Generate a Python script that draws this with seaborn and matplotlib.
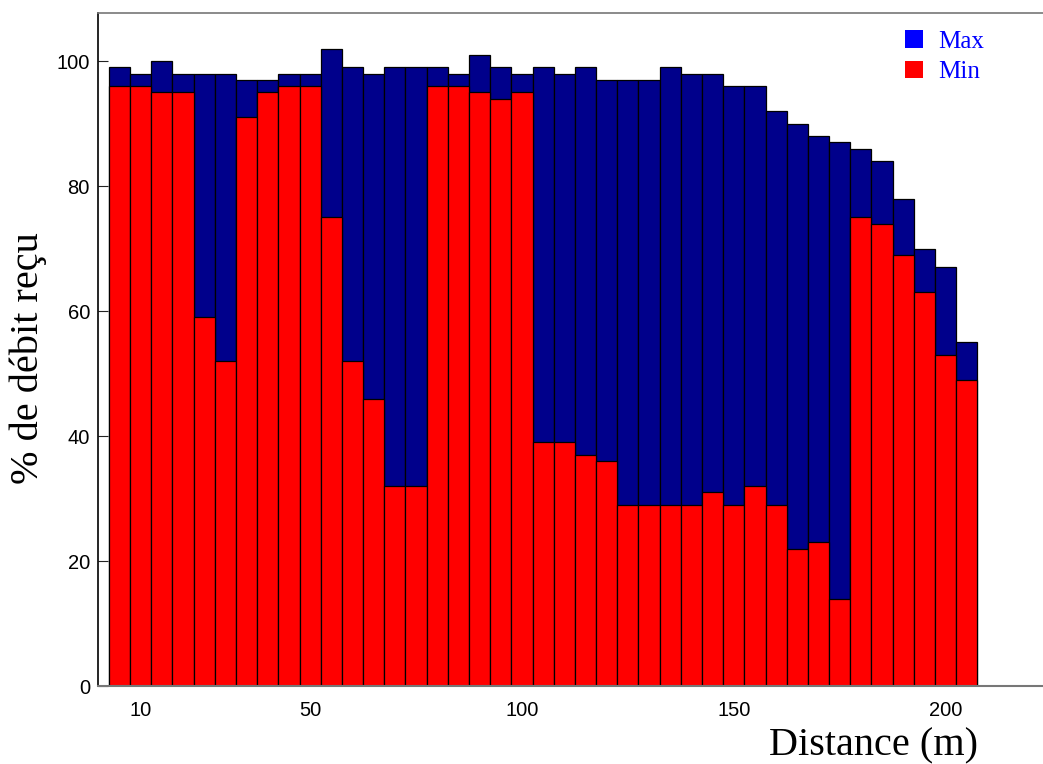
import matplotlib
matplotlib.use("Agg")
import matplotlib.pyplot as plt
import seaborn as sns
import pandas as pd
from matplotlib.patches import Patch

distance = [5, 10, 15, 20, 25, 30, 35, 40, 45, 50,
            55, 60, 65, 70, 75, 80, 85, 90, 95, 100,
            105, 110, 115, 120, 125, 130, 135, 140, 145, 150,
            155, 160, 165, 170, 175, 180, 185, 190, 195, 200, 205]
max_pct = [99, 98, 100, 98, 98, 98, 97, 97, 98, 98,
           102, 99, 98, 99, 99, 99, 98, 101, 99, 98,
           99, 98, 99, 97, 97, 97, 99, 98, 98, 96,
           96, 92, 90, 88, 87, 86, 84, 78, 70, 67, 55]
min_pct = [96, 96, 95, 95, 59, 52, 91, 95, 96, 96,
           75, 52, 46, 32, 32, 96, 96, 95, 94, 95,
           39, 39, 37, 36, 29, 29, 29, 29, 31, 29,
           32, 29, 22, 23, 14, 75, 74, 69, 63, 53, 49]
xticks = [10, 50, 100, 150, 200]
yticks = [0, 20, 40, 60, 80, 100]
series_labels = ["Max", "Min"]

df = pd.DataFrame({"distance": distance, "max": max_pct, "min": min_pct})

sns.set_theme(style="white")
plt.rcParams["font.family"] = ["Liberation Sans", "DejaVu Sans"]

W, H = 1043, 764
fig = plt.figure(figsize=(W / 100, H / 100), dpi=100)
ax = fig.add_axes([98.3 / W, 1 - 686 / H, 1 - 98.3 / W, (686 - 13) / H])

navy = "#00008B"
red = "#FF0000"
sns.barplot(data=df, x="distance", y="max", native_scale=True, width=1,
            color=navy, saturation=1, edgecolor="black", linewidth=0.9,
            errorbar=None, ax=ax)
sns.barplot(data=df, x="distance", y="min", native_scale=True, width=1,
            color=red, saturation=1, edgecolor="black", linewidth=0.9,
            errorbar=None, ax=ax)

ax.set_xlim(0, 223)
ax.set_ylim(0, 107.7)
ax.set_xticks(xticks)
ax.set_xticklabels([str(t) for t in xticks])
ax.set_yticks(yticks)
ax.set_yticklabels([str(t) for t in yticks])
ax.tick_params(axis="x", direction="in", length=7, width=0.8, color="#444444",
               pad=11, labelsize=14.5, labelcolor="black", bottom=True)
ax.tick_params(axis="y", direction="in", length=7, width=0.8, color="#222222",
               pad=6, labelsize=14.5, labelcolor="black", left=True)
ax.set_xlabel("")
ax.set_ylabel("")

ax.spines["right"].set_visible(False)
ax.spines["left"].set_color("black")
ax.spines["left"].set_linewidth(1.2)
ax.spines["top"].set_color("#777777")
ax.spines["top"].set_linewidth(1.2)
ax.spines["bottom"].set_color("#777777")
ax.spines["bottom"].set_linewidth(1.5)
ax.grid(False)

serif = ["Liberation Serif", "DejaVu Serif"]
fig.text(978 / W, (764 - 755) / H, "Distance (m)", ha="right", va="baseline",
         fontsize=29, family=serif, color="black")
fig.text(28 / W, 1 - 358 / H, "% de débit reçu", ha="center", va="center",
         rotation=90, fontsize=29, family=serif, color="black")

handles = [Patch(facecolor="#0000FF", edgecolor="none"),
           Patch(facecolor=red, edgecolor="none")]
leg = ax.legend(handles, series_labels, loc="upper left",
                bbox_to_anchor=(905 / W, 1 - 30 / H), bbox_transform=fig.transFigure,
                frameon=False, borderpad=0, borderaxespad=0,
                handlelength=0.72, handleheight=0.72, handletextpad=0.6,
                labelspacing=0.32, prop={"family": serif, "size": 18})
for t in leg.get_texts():
    t.set_color("#0000FF")

fig.savefig("out.png", dpi=100)
